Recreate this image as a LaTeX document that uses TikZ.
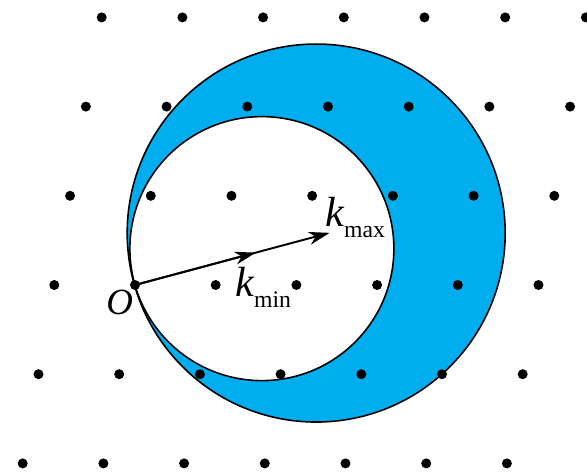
\documentclass[tikz,border=0pt]{standalone}
\usepackage{fontspec}
\setmainfont{Liberation Serif}
\usepackage{tikz}
\usetikzlibrary{arrows.meta}
\definecolor{shellblue}{HTML}{00AEEF}
\newcommand{\wavevec}[1]{{\itshape k}\raisebox{-6.2pt}{\fontsize{13.5}{16}\selectfont #1}}

\begin{document}
\begin{tikzpicture}[
    x=1cm,
    y=1cm,
    every node/.style={font=\fontsize{24}{28}\selectfont, inner sep=0pt},
    shell/.style={fill=shellblue, even odd rule},
    rim/.style={draw, line width=0.9pt},
    site/.style={fill=black},
    vec/.style={-{Stealth[length=4.2mm,width=2.6mm,inset=1.3mm]}, line width=1.1pt}
]
    \useasboundingbox (-2.7,-3.74) rectangle (9.04,5.7);
    \coordinate (O) at (0,0);
    \coordinate (cout) at (16:3.77);
    \coordinate (cin) at (16:2.64);
    \coordinate (kmin) at (15:2.5);
    \coordinate (kmax) at (15:4.03);

    % shell between the two spheres
    \fill[shell] (cout) circle (3.78) (cin) circle (2.64);
    \draw[rim] (cout) circle (3.78);
    \draw[rim] (cin) circle (2.64);

    % lattice points
    \foreach \j in {-3,...,2}
      \foreach \i in {-1,...,5}
        \fill[site] ({1.614*\i-0.316*\j},{-1.784*\j}) circle (0.1);

    \draw[vec] (O) -- (kmax);
    \draw[vec] (O) -- (kmin);
    \node[anchor=base west, font=\fontsize{21}{24}\selectfont\itshape] (lO) at (-0.58,-0.6) {O};
    \node[anchor=base west] (lmax) at (3.8,1.16) {\wavevec{max}};
    \node[anchor=base west] (lmin) at (2.0,-0.24) {\wavevec{min}};
\end{tikzpicture}
\end{document}
